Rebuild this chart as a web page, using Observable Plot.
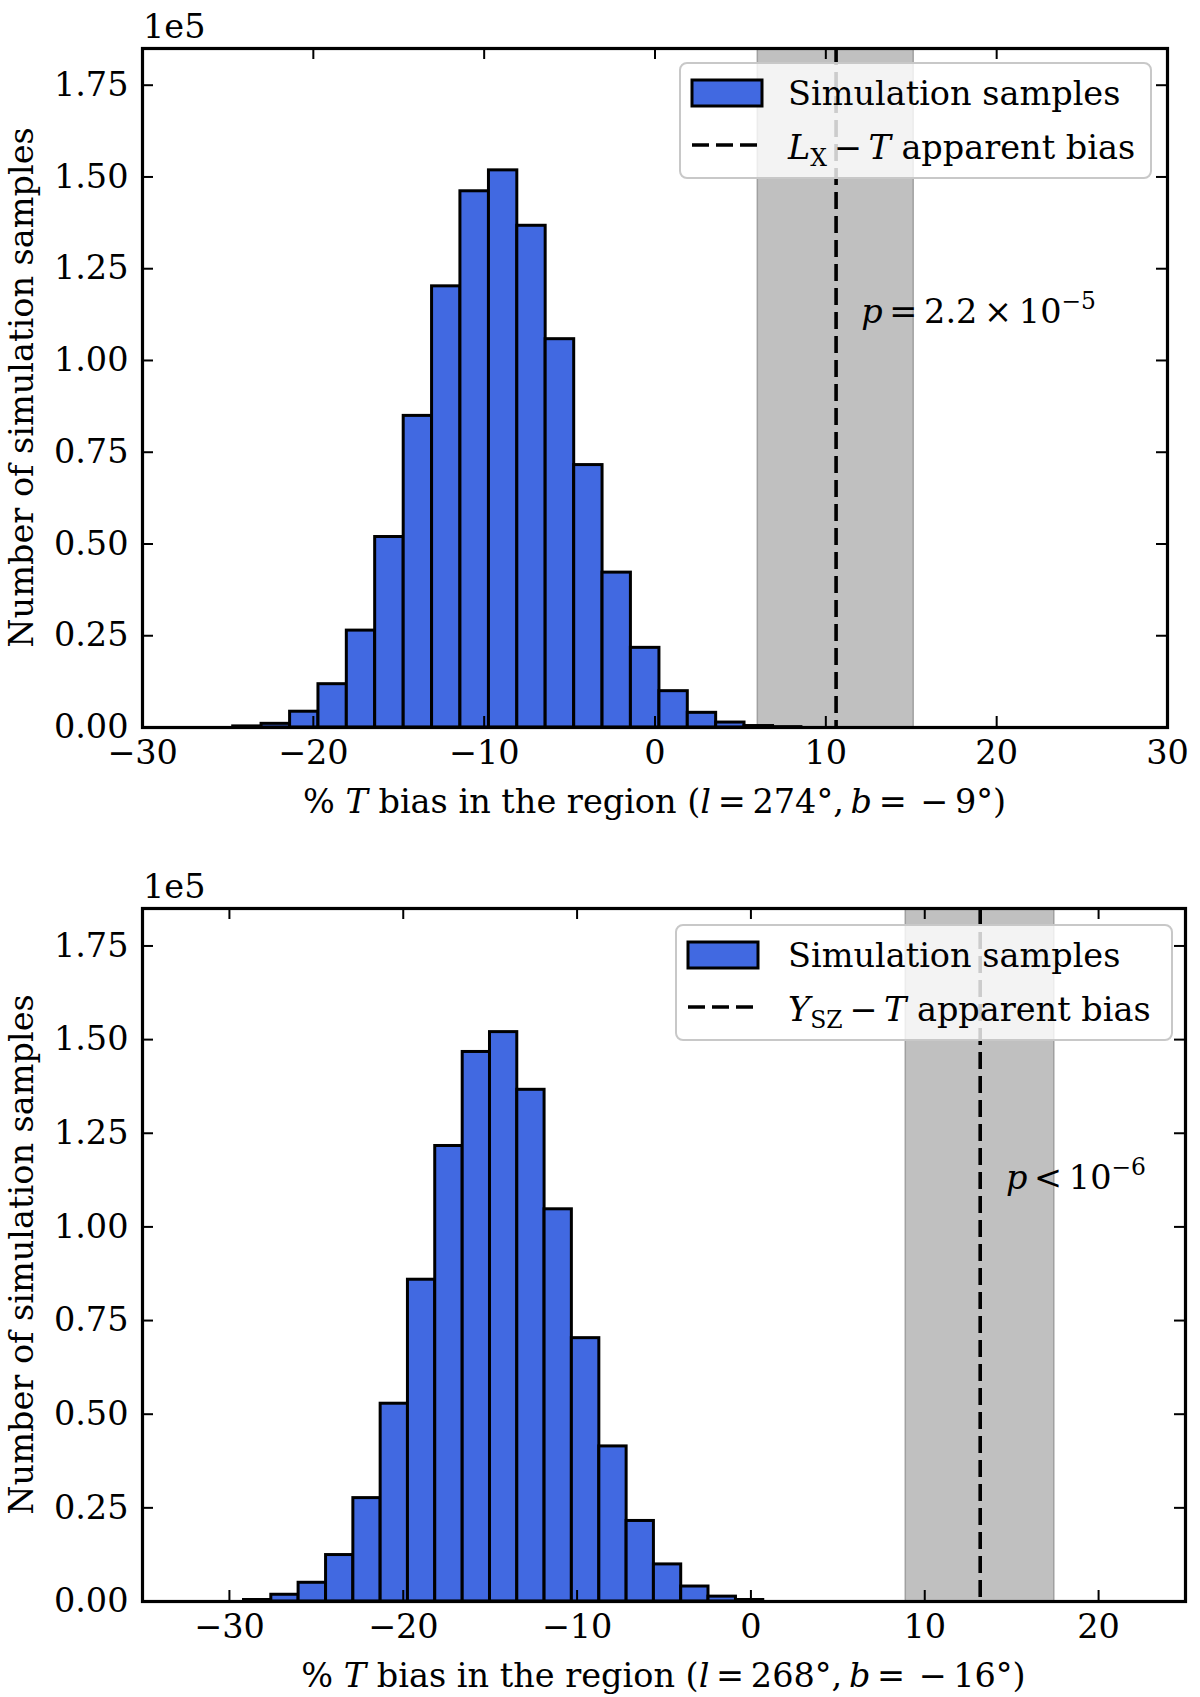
<!DOCTYPE html>
<html>
<head>
<meta charset="utf-8">
<script src="https://cdn.jsdelivr.net/npm/d3@7"></script>
<script src="https://cdn.jsdelivr.net/npm/@observablehq/plot@0.6"></script>
<style>
  body { margin: 0; background: #fff; }
  #chart { width: 1200px; }
  #chart svg { display: block; }
  #chart text { white-space: pre; }
</style>
</head>
<body>
<div id="chart"></div>
<script>
// top panel: region l = 274°, b = -9°, L_X - T
const binEdgesA = [-24.69, -23.03, -21.36, -19.70, -18.04, -16.38, -14.71, -13.05, -11.39, -9.72, -8.06,
  -6.40, -4.73, -3.07, -1.41, 0.26, 1.92, 3.58, 5.24, 6.91, 8.57]
const countsA = [300, 1000, 4300, 11800, 26400, 51900, 84900, 120200, 146100, 151800,
  136700, 105800, 71500, 42200, 21700, 9900, 4000, 1350, 400, 100]
const bandA = [6.02, 15.14]   // 1 sigma range of the apparent bias
const biasA = 10.6
const xTicksA = [-30, -20, -10, 0, 10, 20, 30]

// bottom panel: region l = 268°, b = -16°, Y_SZ - T
const binEdgesB = [-29.16, -27.59, -26.02, -24.44, -22.87, -21.30, -19.73, -18.16, -16.58, -15.01,
  -13.44, -11.87, -10.30, -8.72, -7.15, -5.58, -4.01, -2.44, -0.86, 0.71]
const countsB = [400, 1800, 5000, 12400, 27600, 52800, 85900, 121600, 146700, 152000,
  136600, 104700, 70300, 41400, 21500, 9900, 4000, 1300, 400]
const bandB = [8.91, 17.45]
const biasB = 13.19
const xTicksB = [-30, -20, -10, 0, 10, 20]

const yTicks = [0, 25000, 50000, 75000, 100000, 125000, 150000, 175000]
const yMax = 185000

const FS = 33.5
const TS = "\u2009" // espace fine, comme dans mathtext

// texte avec italiques / indices / exposants
function rich(parent, x, y, parts, size, anchor = "start") {
  const t = parent.append("text").attr("x", x).attr("y", y)
    .attr("font-size", size).attr("fill", "black").attr("text-anchor", anchor)
  let shift = 0
  for (const [s, k] of parts) {
    const target = k === "sub" ? size * 0.22 : k === "sup" ? -size * 0.42 : 0
    const ts = t.append("tspan").text(s).attr("dy", target - shift)
    shift = target
    if (k === "i") ts.attr("font-style", "italic")
    if (k === "sub" || k === "sup") ts.attr("font-size", size * 0.7)
  }
  return t
}

function panel(o) {
  const W = 1200, ML = 142
  const fw = W - ML - o.marginRight
  const fh = o.height - o.marginTop - o.marginBottom
  const bins = o.counts.map((c, i) => ({x1: o.edges[i], x2: o.edges[i + 1], count: c}))
  const minus = d => d < 0 ? "\u2212" + Math.abs(d) : String(d)

  const plot = Plot.plot({
    width: W,
    height: o.height,
    marginLeft: ML,
    marginRight: o.marginRight,
    marginTop: o.marginTop,
    marginBottom: o.marginBottom,
    style: {fontFamily: "'DejaVu Serif', serif", fontSize: FS + "px", background: "white", overflow: "visible"},
    x: {domain: o.xDomain},
    y: {domain: [0, yMax]},
    marks: [
      Plot.rect([o.band], {x1: d => d[0], x2: d => d[1], fill: "#c0c0c0", stroke: "#a0a0a0", strokeWidth: 1.5}),
      Plot.rect(bins, {x1: "x1", x2: "x2", y1: 0, y2: "count", fill: "#4169e1", stroke: "black", strokeWidth: 3}),
      Plot.ruleX([o.bias], {stroke: "black", strokeWidth: 3.6, strokeDasharray: "17,7"}),
      // ticks vers l'intérieur, sur les 4 côtés
      Plot.tickX(o.xTicks, {x: d => d, insetTop: fh - 11, strokeWidth: 2}),
      Plot.tickX(o.xTicks, {x: d => d, insetBottom: fh - 11, strokeWidth: 2}),
      Plot.tickY(yTicks, {y: d => d, insetRight: fw - 11, strokeWidth: 2}),
      Plot.tickY(yTicks, {y: d => d, insetLeft: fw - 11, strokeWidth: 2}),
      Plot.axisX(o.xTicks, {tickSize: 0, tickPadding: 13, fontSize: FS, tickFormat: minus, label: null}),
      Plot.axisY(yTicks, {tickSize: 0, tickPadding: 14, fontSize: FS, tickFormat: d => (d / 1e5).toFixed(2), label: null}),
      Plot.frame({stroke: "black", strokeWidth: 3.2})
    ]
  })

  const svg = d3.select(plot)
  const sx = plot.scale("x"), sy = plot.scale("y")

  // facteur d'échelle en haut à gauche
  svg.append("text").attr("x", ML + 1).attr("y", o.marginTop - 10)
    .attr("text-anchor", "start").attr("font-size", FS).text("1e5")

  // titre axe y
  const cy = o.marginTop + fh / 2
  svg.append("text").attr("x", 33).attr("y", cy)
    .attr("transform", `rotate(-90, 33, ${cy})`)
    .attr("text-anchor", "middle").attr("font-size", FS)
    .text("Number of simulation samples")

  // titre axe x
  rich(svg, ML + fw / 2, o.marginTop + fh + 86, o.xLabel, FS, "middle")

  // valeur p
  rich(svg, sx.apply(o.pX), sy.apply(o.pY), o.pText, FS)

  // légende
  const bx = ML + fw - o.legendRight - o.legendW, by = o.marginTop + o.legendTop
  const lg = svg.append("g")
  lg.append("rect").attr("x", bx).attr("y", by).attr("width", o.legendW).attr("height", 115)
    .attr("rx", 7).attr("fill", "white").attr("fill-opacity", 0.8)
    .attr("stroke", "#c8c8c8").attr("stroke-width", 2)
  lg.append("rect").attr("x", bx + 12).attr("y", by + 17).attr("width", 70).attr("height", 26)
    .attr("fill", "#4169e1").attr("stroke", "black").attr("stroke-width", 3)
  lg.append("line").attr("x1", bx + 12).attr("x2", bx + 82).attr("y1", by + 82).attr("y2", by + 82)
    .attr("stroke", "black").attr("stroke-width", 3.6).attr("stroke-dasharray", "17,7")
  rich(lg, bx + o.legendTextDx, by + 42, [["Simulation samples", ""]], FS)
  rich(lg, bx + o.legendTextDx, by + 96, o.legendLine, FS)

  return plot
}

const chartA = panel({
  edges: binEdgesA, counts: countsA, band: bandA, bias: biasA,
  xDomain: [-30, 30], xTicks: xTicksA,
  height: 830, marginTop: 48, marginBottom: 103, marginRight: 33,
  xLabel: [["% ", ""], ["T", "i"], [" bias in the region (", ""], ["l", "i"], [`${TS}=${TS}274°,${TS}`, ""], ["b", "i"], [`${TS}=${TS}${TS}−${TS}9°)`, ""]],
  pX: 12.1, pY: 110000,
  pText: [["p", "i"], [`${TS}=${TS}2.2${TS}×${TS}10`, ""], ["−5", "sup"]],
  legendW: 471, legendRight: 16, legendTop: 15, legendTextDx: 108,
  legendLine: [["L", "i"], ["X", "sub"], [`${TS}−${TS}`, ""], ["T", "i"], [" apparent bias", ""]]
})

const chartB = panel({
  edges: binEdgesB, counts: countsB, band: bandB, bias: biasB,
  xDomain: [-35, 25], xTicks: xTicksB,
  height: 867, marginTop: 78, marginBottom: 96, marginRight: 15,
  xLabel: [["% ", ""], ["T", "i"], [" bias in the region (", ""], ["l", "i"], [`${TS}=${TS}268°,${TS}`, ""], ["b", "i"], [`${TS}=${TS}${TS}−${TS}16°)`, ""]],
  pX: 14.7, pY: 110000,
  pText: [["p", "i"], [`${TS}<${TS}10`, ""], ["−6", "sup"]],
  legendW: 496, legendRight: 13, legendTop: 17, legendTextDx: 112,
  legendLine: [["Y", "i"], ["SZ", "sub"], [`${TS}−${TS}`, ""], ["T", "i"], [" apparent bias", ""]]
})

d3.select('#chart').append(() => chartA)
d3.select('#chart').append(() => chartB)
</script>
</body>
</html>
